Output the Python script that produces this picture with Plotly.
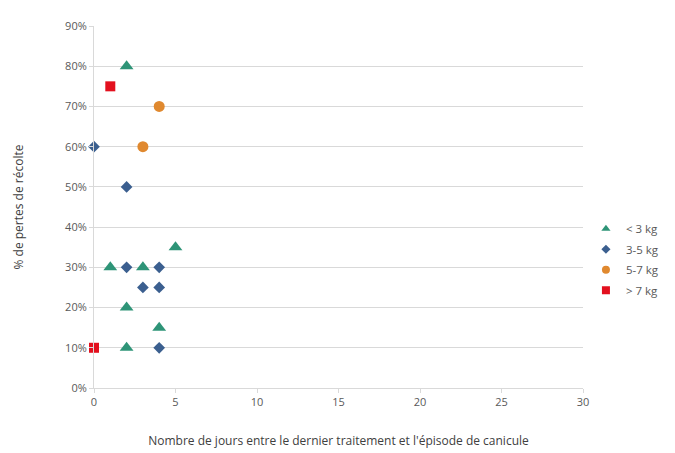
import plotly.graph_objects as go

# Days between last treatment and heat wave, and % of crop lost, per yield class
lt3_days = [2, 5, 1, 3, 2, 4, 2]
lt3_loss = [80, 35, 30, 30, 20, 15, 10]

c35_days = [0, 2, 2, 4, 3, 4, 4]
c35_loss = [60, 50, 30, 30, 25, 25, 10]

c57_days = [4, 3]
c57_loss = [70, 60]

gt7_days = [1, 0]
gt7_loss = [75, 10]

series = [
    ("< 3 kg", lt3_days, lt3_loss, "triangle-up", "#2E9477", 12, 8),
    ("3-5 kg", c35_days, c35_loss, "diamond", "#3B5F8F", 9, 7),
    ("5-7 kg", c57_days, c57_loss, "circle", "#E0892F", 11, 8),
    ("> 7 kg", gt7_days, gt7_loss, "square", "#E3101E", 10, 8),
]

fig = go.Figure()
for name, xs, ys, sym, col, sz, lsz in series:
    fig.add_trace(go.Scatter(
        x=xs, y=[v / 100 for v in ys], mode="markers", name=name,
        showlegend=False, cliponaxis=False, legendgroup=name,
        marker=dict(symbol=sym, color=col, size=sz, line=dict(width=0)),
    ))
    # legend entry with a smaller symbol
    fig.add_trace(go.Scatter(
        x=[None], y=[None], mode="markers", name=name, legendgroup=name,
        marker=dict(symbol=sym, color=col, size=lsz, line=dict(width=0)),
    ))

axis_font = dict(family="Open Sans, Liberation Sans, sans-serif", size=11, color="#595959")

fig.update_layout(
    width=675, height=453,
    margin=dict(l=94, r=92, t=26, b=65, autoexpand=False),
    paper_bgcolor="white", plot_bgcolor="white",
    font=axis_font,
    showlegend=True,
    legend=dict(x=1.006, y=0.48, xanchor="left", yanchor="top",
                font=dict(size=11.5, color="#595959"),
                itemsizing="trace", tracegroupgap=1.5, itemwidth=30),
    xaxis=dict(
        range=[0, 30], tickvals=[0, 5, 10, 15, 20, 25, 30],
        showgrid=False, zeroline=False,
        showline=True, linecolor="#D9D9D9", linewidth=1,
        ticks="outside", ticklen=4, tickcolor="#D9D9D9",
        title=dict(text="Nombre de jours entre le dernier traitement et l'épisode de canicule",
                   font=dict(size=12, color="#404040"), standoff=28),
        tickfont=axis_font,
    ),
    yaxis=dict(
        range=[0, 0.9], tickvals=[i / 10 for i in range(10)], tickformat=".0%",
        showgrid=True, gridcolor="#D9D9D9", gridwidth=1, zeroline=False,
        showline=True, linecolor="#D9D9D9", linewidth=1,
        ticks="outside", ticklen=4, tickcolor="#D9D9D9",
        title=dict(text="% de pertes de récolte", font=dict(size=12, color="#404040"), standoff=38),
        tickfont=axis_font,
    ),
)

fig.write_html("out.html")
